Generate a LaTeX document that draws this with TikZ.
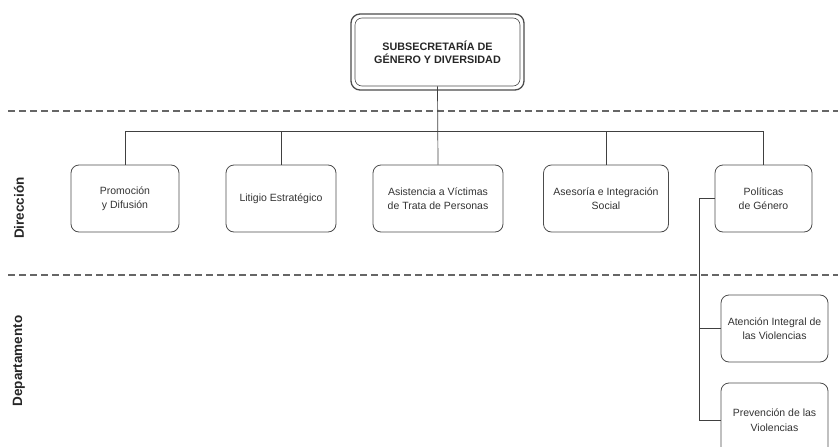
\documentclass[tikz,border=0pt]{standalone}
\usepackage{fontspec}
\setmainfont{Liberation Sans}
\begin{document}
\begin{tikzpicture}[x=1pt,y=-1pt,
  line/.style={draw=black!75, line width=0.7pt},
  sep/.style={draw=black!60, line width=1.1pt, dash pattern=on 7pt off 4pt},
  unit/.style={draw=black!70, line width=0.8pt, rounded corners=8pt, align=center, inner sep=0pt,
     font=\fontsize{10.5}{14.5}\selectfont, text=black!80},
  lvl/.style={font=\bfseries\fontsize{13.5}{16}\selectfont, rotate=90, text=black!85}
]
\useasboundingbox (0,0) rectangle (838,447);
% top box
\draw[draw=black!70, line width=1.3pt, rounded corners=9pt] (351,14) rectangle (524,90);
\node[draw=black!70, line width=0.6pt, rounded corners=7pt, minimum width=165pt, minimum height=68pt,
  align=center, font=\bfseries\fontsize{10.8}{13}\selectfont, text=black!85] (top) at (437.5,52)
  {SUBSECRETARÍA DE\\GÉNERO Y DIVERSIDAD};
% separators
\draw[sep] (8,111) -- (838,111);
\draw[sep] (8,275) -- (838,275);
% level labels
\node[lvl] (dir) at (19,208) {Dirección};
\node[lvl] (dep) at (19,361) {Departamento};
% direction boxes
\node[unit, minimum width=108pt, minimum height=67pt] (d1) at (125,198.5) {Promoción\\y Difusión};
\node[unit, minimum width=110pt, minimum height=67pt] (d2) at (281,198.5) {Litigio Estratégico};
\node[unit, minimum width=130pt, minimum height=67pt] (d3) at (438,198.5) {Asistencia a Víctimas\\de Trata de Personas};
\node[unit, minimum width=125pt, minimum height=67pt] (d4) at (606,198.5) {Asesoría e Integración\\Social};
\node[unit, minimum width=97pt, minimum height=67pt] (d5) at (763.5,198.5) {Políticas\\de Género};
% department boxes
\node[unit, minimum width=107pt, minimum height=67pt] (p1) at (774.5,328.5) {Atención Integral de\\las Violencias};
\node[unit, minimum width=107pt, minimum height=74pt] (p2) at (774.5,420) {Prevención de las\\Violencias};
% connectors
\coordinate (bus) at (0,131);
\draw[line] (top.south) -- (d3.north);
\draw[line] (d1.north) |- (bus -| d5.north) -- (d5.north);
\draw[line] (d2.north) -- (d2.north |- bus);
\draw[line] (d4.north) -- (d4.north |- bus);
\coordinate (rail) at (699,0);
\draw[line] (d5.west) -- (d5.west -| rail) |- (p2.west);
\draw[line] (p1.west -| rail) -- (p1.west);
\end{tikzpicture}
\end{document}
